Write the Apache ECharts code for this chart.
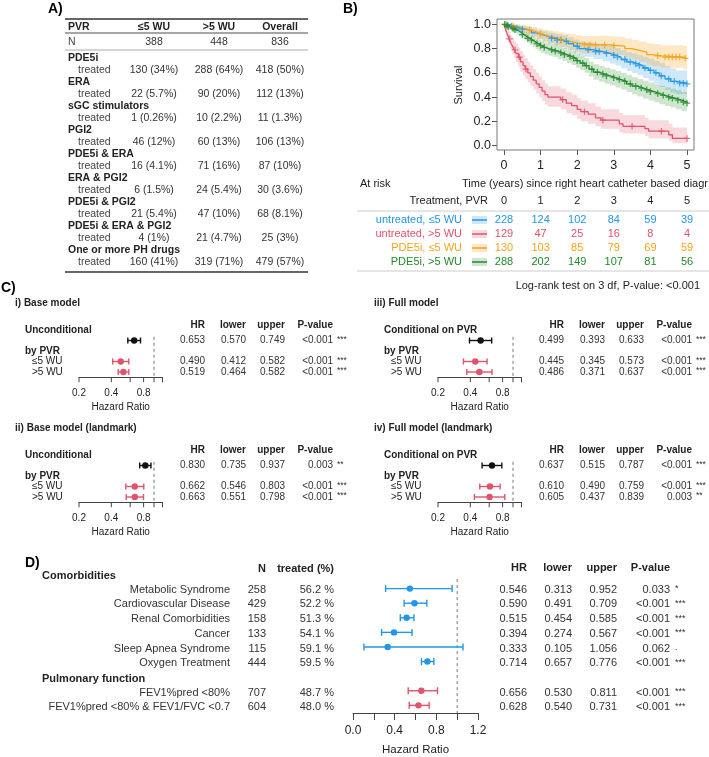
<!DOCTYPE html>
<html><head><meta charset="utf-8">
<script src="https://cdn.jsdelivr.net/npm/echarts@6.0.0/dist/echarts.min.js"></script>
<style>html,body{margin:0;padding:0;background:#fff;}#c{width:709px;height:757px;}</style>
</head><body><div id="c"></div>
<script>
// ================= DATA =================
// ---- Panel A: treatment table ----
const tableHeader = ['PVR', '≤5 WU', '>5 WU', 'Overall'];
const tableNLabel = 'N';
const tableN = ['388', '448', '836'];
const drugGroups = ['PDE5i', 'ERA', 'sGC stimulators', 'PGI2', 'PDE5i & ERA', 'ERA & PGI2', 'PDE5i & PGI2', 'PDE5i & ERA & PGI2', 'One or more PH drugs'];
const treatedLabel = 'treated';
const treatedLow = ['130 (34%)', '22 (5.7%)', '1 (0.26%)', '46 (12%)', '16 (4.1%)', '6 (1.5%)', '21 (5.4%)', '4 (1%)', '160 (41%)'];
const treatedHigh = ['288 (64%)', '90 (20%)', '10 (2.2%)', '60 (13%)', '71 (16%)', '24 (5.4%)', '47 (10%)', '21 (4.7%)', '319 (71%)'];
const treatedAll = ['418 (50%)', '112 (13%)', '11 (1.3%)', '106 (13%)', '87 (10%)', '30 (3.6%)', '68 (8.1%)', '25 (3%)', '479 (57%)'];

// ---- Panel B: Kaplan-Meier ----
const kmGroups = ['untreated, ≤5 WU', 'untreated, >5 WU', 'PDE5i, ≤5 WU', 'PDE5i, >5 WU'];
const blueT  = [0, 0.05, 0.15, 0.3, 0.45, 0.6, 0.75, 0.9, 1.05, 1.2, 1.4, 1.6, 1.75, 1.9, 2.05, 2.2, 2.45, 2.7, 2.9, 3.05, 3.2, 3.35, 3.5, 3.65, 3.8, 3.95, 4.1, 4.25, 4.4, 4.55, 4.7, 5];
const blueS  = [1, .995, .985, .97, .96, .95, .93, .915, .90, .885, .87, .86, .84, .82, .80, .79, .775, .76, .745, .73, .71, .69, .675, .66, .64, .62, .60, .575, .55, .53, .515, .51];
const blueLo = [1, .986, .970, .948, .934, .921, .897, .878, .860, .842, .824, .812, .789, .766, .744, .732, .714, .696, .678, .661, .638, .615, .598, .580, .557, .534, .511, .483, .460, .440, .425, .420];
const blueHi = [1, 1, 1, .992, .987, .980, .965, .954, .942, .930, .918, .910, .893, .876, .860, .852, .840, .828, .817, .805, .789, .772, .760, .748, .732, .716, .700, .680, .655, .635, .620, .610];
const blueCens = [0.1, 0.2, 0.35, 0.5, 1.3, 1.45, 1.55, 1.7, 2.0, 2.3, 2.5, 2.6, 2.8, 3.0, 3.1, 3.3, 3.45, 3.6, 3.7, 3.85, 4.0, 4.15, 4.3, 4.5, 4.65, 4.8, 4.9, 5.0];

const redT  = [0, .03, .06, .1, .14, .18, .23, .28, .33, .39, .45, .52, .58, .65, .72, .8, .88, .96, 1.04, 1.12, 1.2, 1.55, 1.7, 1.85, 2.0, 2.1, 2.3, 2.5, 2.65, 3.15, 3.25, 3.85, 3.95, 4.5, 4.6, 5];
const redS  = [1, .97, .94, .91, .88, .85, .82, .79, .76, .73, .69, .66, .63, .60, .57, .54, .51, .48, .45, .42, .40, .38, .35, .33, .30, .28, .26, .23, .21, .18, .16, .14, .12, .09, .06, .06];
const redLo = [1, .94, .90, .86, .83, .79, .75, .72, .69, .65, .61, .58, .55, .52, .49, .46, .43, .40, .37, .34, .32, .30, .27, .25, .22, .20, .18, .16, .14, .11, .10, .08, .06, .04, .02, .02];
const redHi = [1, 1, .98, .96, .94, .91, .89, .86, .84, .81, .78, .75, .72, .69, .66, .63, .60, .57, .54, .51, .49, .47, .44, .42, .39, .37, .35, .32, .30, .27, .25, .23, .21, .18, .15, .15];
const redCens = [0.15, 0.3, 0.42, 0.6, 1.6, 2.2, 2.7, 3.5, 4.3, 5.0];

const orangeT  = [0, .1, .2, .3, .45, .6, .75, .9, 1.05, 1.2, 1.35, 1.5, 1.65, 1.8, 1.95, 2.1, 2.6, 2.9, 3.1, 3.3, 3.5, 3.7, 3.9, 4.05, 4.3, 4.9, 5];
const orangeS  = [1, .99, .985, .975, .96, .95, .935, .92, .905, .895, .885, .87, .86, .85, .84, .83, .83, .825, .82, .80, .785, .77, .75, .74, .73, .72, .715];
const orangeLo = [1, .973, .964, .948, .928, .913, .894, .875, .856, .843, .830, .812, .799, .787, .774, .761, .760, .754, .748, .725, .708, .690, .667, .655, .643, .630, .622];
const orangeHi = [1, 1, 1, 1, .994, .988, .978, .968, .957, .950, .943, .933, .925, .918, .911, .904, .906, .902, .898, .883, .871, .859, .843, .835, .828, .822, .820];
const orangeCens = [0.05, 0.25, 0.7, 1.0, 1.55, 2.2, 2.35, 2.5, 2.75, 3.0, 4.2, 4.4, 4.5, 4.6, 4.7, 4.8, 4.95];

const greenT  = [0, .05, .1, .15, .2, .27, .34, .41, .48, .55, .62, .7, .78, .86, .94, 1.02, 1.12, 1.22, 1.35, 1.48, 1.6, 1.72, 1.85, 1.97, 2.08, 2.2, 2.32, 2.45, 2.6, 2.75, 2.9, 3.05, 3.2, 3.35, 3.5, 3.65, 3.8, 3.95, 4.1, 4.25, 4.4, 4.55, 4.7, 4.85, 5];
const greenS  = [1, .99, .98, .975, .965, .955, .945, .93, .915, .90, .885, .87, .855, .84, .825, .81, .80, .79, .78, .765, .75, .735, .72, .70, .68, .66, .63, .605, .59, .575, .56, .545, .53, .51, .49, .475, .46, .445, .43, .415, .40, .39, .375, .36, .35];
const greenLo = [1, .979, .964, .957, .944, .931, .919, .901, .883, .866, .848, .831, .814, .797, .780, .763, .752, .741, .730, .713, .697, .680, .664, .642, .621, .600, .569, .543, .527, .511, .495, .479, .463, .442, .421, .405, .389, .373, .357, .341, .326, .315, .300, .285, .274];
const greenHi = [1, 1, .996, .993, .986, .979, .972, .960, .948, .936, .924, .911, .898, .885, .872, .859, .851, .842, .833, .820, .806, .792, .779, .760, .741, .722, .694, .671, .657, .643, .629, .615, .601, .582, .563, .549, .535, .521, .507, .493, .479, .470, .456, .442, .434];
const greenCens = [0.02, 0.08, 0.12, 0.25, 0.3, 0.5, 0.65, 0.75, 0.9, 1.0, 1.1, 1.3, 1.4, 1.55, 1.65, 1.8, 1.9, 2.0, 2.15, 2.25, 2.4, 2.55, 2.7, 2.8, 3.0, 3.15, 3.3, 3.45, 3.6, 3.75, 3.9, 4.0, 4.2, 4.35, 4.5, 4.6, 4.75, 4.9, 5.0];

const riskTimes = [0, 1, 2, 3, 4, 5];
const riskBlue = [228, 124, 102, 84, 59, 39];
const riskRed = [129, 47, 25, 16, 8, 4];
const riskOrange = [130, 103, 85, 79, 69, 59];
const riskGreen = [288, 202, 149, 107, 81, 56];
const kmYLabel = 'Survival';
const atRiskText = 'At risk';
const timeAxisTitle = 'Time (years) since right heart catheter based diagr';
const riskHeader = 'Treatment, PVR';
const logRankText = 'Log-rank test on 3 df, P-value: <0.001';

// ---- Panel C: forest plots ----
const cTitles = ['i) Base model', 'ii) Base model (landmark)', 'iii) Full model', 'iv) Full model (landmark)'];
const cGroupLabels = ['Unconditional', 'Unconditional', 'Conditional on PVR', 'Conditional on PVR'];
const byPvrLabel = 'by PVR';
const subgroupLabels = ['≤5 WU', '>5 WU'];
const tableHead = ['HR', 'lower', 'upper', 'P-value'];
const baseHR = [0.653, 0.490, 0.519], baseLo = [0.570, 0.412, 0.464], baseHi = [0.749, 0.582, 0.582];
const baseP = ['<0.001', '<0.001', '<0.001'], baseStars = ['***', '***', '***'];
const baseLmHR = [0.830, 0.662, 0.663], baseLmLo = [0.735, 0.546, 0.551], baseLmHi = [0.937, 0.803, 0.798];
const baseLmP = ['0.003', '<0.001', '<0.001'], baseLmStars = ['**', '***', '***'];
const fullHR = [0.499, 0.445, 0.486], fullLo = [0.393, 0.345, 0.371], fullHi = [0.633, 0.573, 0.637];
const fullP = ['<0.001', '<0.001', '<0.001'], fullStars = ['***', '***', '***'];
const fullLmHR = [0.637, 0.610, 0.605], fullLmLo = [0.515, 0.490, 0.437], fullLmHi = [0.787, 0.759, 0.839];
const fullLmP = ['<0.001', '<0.001', '0.003'], fullLmStars = ['***', '***', '**'];
const cTicks = [0.2, 0.4, 0.6, 0.8, 1.0, 1.2];
const cTickLabels = [0.2, 0.4, 0.8];
const refHR = 1;
const hrAxisName = 'Hazard Ratio';

// ---- Panel D: comorbidities ----
const dGroupTitles = ['Comorbidities', 'Pulmonary function'];
const dHead = ['N', 'treated (%)'];
const comorbLabels = ['Metabolic Syndrome', 'Cardiovascular Disease', 'Renal Comorbidities', 'Cancer', 'Sleep Apnea Syndrome', 'Oxygen Treatment'];
const comorbN = [258, 429, 158, 133, 115, 444];
const comorbTreated = ['56.2 %', '52.2 %', '51.3 %', '54.1 %', '59.1 %', '59.5 %'];
const comorbHR = [0.546, 0.590, 0.515, 0.394, 0.333, 0.714];
const comorbLo = [0.313, 0.491, 0.454, 0.274, 0.105, 0.657];
const comorbHi = [0.952, 0.709, 0.585, 0.567, 1.056, 0.776];
const comorbP = ['0.033', '<0.001', '<0.001', '<0.001', '0.062', '<0.001'];
const comorbStars = ['*', '***', '***', '***', '.', '***'];
const pulmLabels = ['FEV1%pred <80%', 'FEV1%pred <80% & FEV1/FVC <0.7'];
const pulmN = [707, 604];
const pulmTreated = ['48.7 %', '48.0 %'];
const pulmHR = [0.656, 0.628], pulmLo = [0.530, 0.540], pulmHi = [0.811, 0.731];
const pulmP = ['<0.001', '<0.001'], pulmStars = ['***', '***'];
const dTickLabels = [0, 0.4, 0.8, 1.2];

// ================= STYLE / LAYOUT =================
const FONT = '"Liberation Sans", Arial, Helvetica, sans-serif';
const COL = {blue: '#2297E6', red: '#DF536B', orange: '#F7A21B', green: '#23892A', black: '#111'};
const BAND = {blue: 'rgba(34,151,230,0.22)', red: 'rgba(223,83,107,0.22)', orange: 'rgba(247,162,27,0.26)', green: 'rgba(35,137,42,0.22)'};
const PLUS = 'path://M3.6,0H5.4V3.6H9V5.4H5.4V9H3.6V5.4H0V3.6H3.6Z';

const g = [];
function T(x, y, text, size, o) {
  o = o || {};
  const al = o.align || 'left';
  g.push({type: 'text', x: x, y: y, z: 50, silent: true,
    style: {text: String(text), font: (o.bold ? 'bold ' : '') + size + 'px ' + FONT, fill: o.color || '#222',
      align: al, verticalAlign: 'middle', textAlign: al, textVerticalAlign: 'middle'}});
}
function Ln(x1, y1, x2, y2, c, w) {
  g.push({type: 'line', z: 50, silent: true, shape: {x1: x1, y1: y1, x2: x2, y2: y2}, style: {stroke: c, lineWidth: w}});
}

// ---- Panel A ----
const A = {x0: 65, x1: 308, labelX: 68, treatedX: 78, cols: [154, 219, 280], rTop: 19, hdrY: 27, rHdr: 33, nY: 42, rN: 50, grp0: 58, step: 12, rBot: 272, fs: 10.5};
T(48, 9, 'A)', 14, {bold: true, color: '#000'});
Ln(A.x0, A.rTop, A.x1, A.rTop, '#666', 2);
T(A.labelX, A.hdrY, tableHeader[0], A.fs, {bold: true});
tableHeader.slice(1).forEach((h, i) => T(A.cols[i], A.hdrY, h, A.fs, {bold: true, align: 'center'}));
Ln(A.x0, A.rHdr, A.x1, A.rHdr, '#888', 1.5);
T(A.labelX, A.nY, tableNLabel, A.fs, {color: '#444'});
tableN.forEach((v, i) => T(A.cols[i], A.nY, v, A.fs, {align: 'center', color: '#333'}));
Ln(A.x0, A.rN, A.x1, A.rN, '#aaa', 1);
drugGroups.forEach((name, k) => {
  const y = A.grp0 + 2 * A.step * k;
  T(A.labelX, y, name, A.fs, {bold: true});
  T(A.treatedX, y + A.step, treatedLabel, A.fs, {color: '#444'});
  [treatedLow[k], treatedHigh[k], treatedAll[k]].forEach((v, i) => T(A.cols[i], y + A.step, v, A.fs, {align: 'center', color: '#333'}));
});
Ln(A.x0, A.rBot, A.x1, A.rBot, '#666', 2);

// ---- Panel B layout ----
const KM = {boxL: 497, boxT: 19, boxW: 197, boxH: 131, gL: 504, gT: 24.3, gW: 183, gH: 121.4};
const R = {atRiskX: 360, y0: 184, timeX: 462, hdrY: 201, labelR: 462, hdrR: 488, gl: 472, gr: 487, rows: [220, 234, 248, 262], ruleL: 357, ruleR: 709, rule1: 211, rule2: 271, lrR: 700, lrY: 286, fs: 11};
T(343, 9, 'B)', 14, {bold: true, color: '#000'});
g.push({type: 'rect', z: 40, silent: true, shape: {x: KM.boxL, y: KM.boxT, width: KM.boxW, height: KM.boxH}, style: {fill: 'none', stroke: '#777', lineWidth: 1}});

// ---- Panel C layout ----
const C = {colOff: [0, 359], rowOff: [0, 125], titleX: 15, titleY: 303, hdrY: 325, row0: 330, step: 10.5, labelX: 25, subX: 32,
  rights: [205, 246, 285, 333], starX: 337, axL: 79, axW: 83.5, yMax: 4.5, fs: 10, estRows: [1, 3, 4]};
// ---- Panel D layout ----
const D = {labelR: 230, nR: 266, trR: 334, groupX: 42, hdrY: 569, row0: 574, step: 14.7, axL: 353, axW: 125, axH: 140,
  rights: [527, 572, 617, 670], starX: 675, fs: 11, comorbRows: [1, 2, 3, 4, 5, 6], pulmRows: [8, 9], groupRows: [0, 7]};

function survAt(t, s, x) { let v = s[0]; for (let i = 0; i < t.length; i++) { if (t[i] <= x) v = s[i]; } return v; }

const grids = [], xAxes = [], yAxes = [], series = [];
// grid 0: KM
grids.push({left: KM.gL, top: KM.gT, width: KM.gW, height: KM.gH});
xAxes.push({type: 'value', gridIndex: 0, min: 0, max: 5, interval: 1, offset: (KM.boxT + KM.boxH) - (KM.gT + KM.gH),
  axisLine: {show: false, onZero: false}, axisTick: {show: true, length: 5, lineStyle: {color: '#555'}},
  axisLabel: {fontSize: 12.5, color: '#222', margin: 9, fontFamily: FONT}, splitLine: {show: false}});
yAxes.push({type: 'value', gridIndex: 0, min: 0, max: 1, interval: 0.2, offset: KM.gL - KM.boxL,
  axisLine: {show: false, onZero: false}, axisTick: {show: true, length: 5, lineStyle: {color: '#555'}},
  axisLabel: {fontSize: 12.5, color: '#222', margin: 6, fontFamily: FONT, formatter: v => v.toFixed(1)}, splitLine: {show: false},
  name: kmYLabel, nameLocation: 'middle', nameGap: 33, nameTextStyle: {fontSize: 11, color: '#222', fontFamily: FONT}});

const kmSets = [
  {t: blueT, s: blueS, lo: blueLo, hi: blueHi, cens: blueCens, c: COL.blue, b: BAND.blue, risk: riskBlue},
  {t: redT, s: redS, lo: redLo, hi: redHi, cens: redCens, c: COL.red, b: BAND.red, risk: riskRed},
  {t: orangeT, s: orangeS, lo: orangeLo, hi: orangeHi, cens: orangeCens, c: COL.orange, b: BAND.orange, risk: riskOrange},
  {t: greenT, s: greenS, lo: greenLo, hi: greenHi, cens: greenCens, c: COL.green, b: BAND.green, risk: riskGreen}
];
// confidence bands: one stepped polygon per group, built through the axis scales
kmSets.forEach((k) => {
  series.push({type: 'custom', xAxisIndex: 0, yAxisIndex: 0, z: 1, silent: true, clip: true,
    data: k.t.map((x, j) => [x, k.lo[j], k.hi[j]]), encode: {x: 0, y: [1, 2]},
    renderItem: (params, api) => {
      if (params.dataIndex !== 0) return null;
      const n = k.t.length, up = [], dn = [];
      for (let j = 0; j < n; j++) {
        const xNext = j < n - 1 ? k.t[j + 1] : k.t[j];
        up.push(api.coord([k.t[j], k.hi[j]]), api.coord([xNext, k.hi[j]]));
        dn.push(api.coord([k.t[j], k.lo[j]]), api.coord([xNext, k.lo[j]]));
      }
      return {type: 'polygon', shape: {points: up.concat(dn.reverse())}, style: {fill: k.b}};
    }});
});
kmSets.forEach((k) => {
  series.push({type: 'line', xAxisIndex: 0, yAxisIndex: 0, step: 'end', symbol: 'none', silent: true, z: 3,
    lineStyle: {color: k.c, width: 1.3}, data: k.t.map((x, j) => [x, k.s[j]])});
  series.push({type: 'scatter', xAxisIndex: 0, yAxisIndex: 0, symbol: PLUS, symbolSize: 6.5, silent: true, z: 4,
    itemStyle: {color: k.c}, data: k.cens.map(x => [x, survAt(k.t, k.s, x)])});
});

// Forest helpers
function forestSeries(gi, hr, lo, hi, rows, colors, capH) {
  return {type: 'custom', xAxisIndex: gi, yAxisIndex: gi, z: 5, clip: false, silent: true,
    data: hr.map((h, i) => [h, rows[i], lo[i], hi[i]]),
    encode: {x: [0, 2, 3], y: 1},
    renderItem: (params, api) => {
      const y = api.value(1);
      const p = api.coord([api.value(0), y]), a = api.coord([api.value(2), y]), b = api.coord([api.value(3), y]);
      const c = colors[params.dataIndex];
      const st = {stroke: c, lineWidth: 1.4};
      return {type: 'group', children: [
        {type: 'line', shape: {x1: a[0], y1: p[1], x2: b[0], y2: p[1]}, style: st},
        {type: 'line', shape: {x1: a[0], y1: p[1] - capH, x2: a[0], y2: p[1] + capH}, style: st},
        {type: 'line', shape: {x1: b[0], y1: p[1] - capH, x2: b[0], y2: p[1] + capH}, style: st},
        {type: 'circle', shape: {cx: p[0], cy: p[1], r: 3.2}, style: {fill: c}}
      ]};
    }};
}
function tickSeries(gi, ticks, labels, yBottom, len, gap, fs) {
  return {type: 'custom', xAxisIndex: gi, yAxisIndex: gi, z: 5, clip: false, silent: true,
    data: ticks.map(v => [v, yBottom]), encode: {x: 0, y: 1},
    renderItem: (params, api) => {
      const v = api.value(0); const p = api.coord([v, api.value(1)]);
      const ch = [{type: 'line', shape: {x1: p[0], y1: p[1], x2: p[0], y2: p[1] + len}, style: {stroke: '#444', lineWidth: 1}}];
      if (labels.indexOf(v) >= 0) ch.push({type: 'text', x: p[0], y: p[1] + gap,
        style: {text: v.toFixed(1), font: fs + 'px ' + FONT, fill: '#222', align: 'center', verticalAlign: 'middle', textAlign: 'center', textVerticalAlign: 'middle'}});
      return {type: 'group', children: ch};
    }};
}
function refLine(gi, y0, y1) {
  return {type: 'line', xAxisIndex: gi, yAxisIndex: gi, symbol: 'none', silent: true, z: 2,
    lineStyle: {color: '#777', width: 1, type: [3, 3]}, data: [[refHR, y0], [refHR, y1]]};
}

// ---- Panel C grids ----
T(1, 288, 'C)', 14, {bold: true, color: '#000'});
const cSets = [
  {hr: baseHR, lo: baseLo, hi: baseHi, p: baseP, s: baseStars, col: 0, row: 0},
  {hr: baseLmHR, lo: baseLmLo, hi: baseLmHi, p: baseLmP, s: baseLmStars, col: 0, row: 1},
  {hr: fullHR, lo: fullLo, hi: fullHi, p: fullP, s: fullStars, col: 1, row: 0},
  {hr: fullLmHR, lo: fullLmLo, hi: fullLmHi, p: fullLmP, s: fullLmStars, col: 1, row: 1}
];
cSets.forEach((cs, k) => {
  const gi = k + 1, dx = C.colOff[cs.col], dy = C.rowOff[cs.row];
  grids.push({left: C.axL + dx, top: C.row0 + dy, width: C.axW, height: C.step * C.yMax});
  xAxes.push({type: 'log', logBase: 10, gridIndex: gi, min: 0.2, max: 1.2, position: 'bottom',
    axisLine: {show: true, onZero: false, lineStyle: {color: '#444', width: 1}}, axisTick: {show: false}, axisLabel: {show: false}, splitLine: {show: false},
    name: hrAxisName, nameLocation: 'middle', nameGap: 25, nameTextStyle: {fontSize: 10, color: '#222', fontFamily: FONT}});
  yAxes.push({type: 'value', gridIndex: gi, min: 0, max: C.yMax, inverse: true, show: false});
  series.push(refLine(gi, 0.65, C.yMax));
  series.push(forestSeries(gi, cs.hr, cs.lo, cs.hi, C.estRows, [COL.black, COL.red, COL.red], 3));
  series.push(tickSeries(gi, cTicks, cTickLabels, C.yMax, 5, 16, 10));
  // texts
  T(C.titleX + dx, C.titleY + dy, cTitles[k], C.fs, {bold: true});
  tableHead.forEach((h, j) => T(C.rights[j] + dx, C.hdrY + dy, h, C.fs, {bold: true, align: 'right'}));
  T(C.labelX + dx, C.row0 + dy, cGroupLabels[k], C.fs, {bold: true});
  T(C.labelX + dx, C.row0 + dy + 2 * C.step, byPvrLabel, C.fs, {bold: true});
  subgroupLabels.forEach((s, j) => T(C.subX + dx, C.row0 + dy + C.estRows[j + 1] * C.step, s, C.fs));
  cs.hr.forEach((h, j) => {
    const y = C.row0 + dy + C.estRows[j] * C.step;
    T(C.rights[0] + dx, y, h.toFixed(3), C.fs, {align: 'right', color: '#333'});
    T(C.rights[1] + dx, y, cs.lo[j].toFixed(3), C.fs, {align: 'right', color: '#333'});
    T(C.rights[2] + dx, y, cs.hi[j].toFixed(3), C.fs, {align: 'right', color: '#333'});
    T(C.rights[3] + dx, y, cs.p[j], C.fs, {align: 'right', color: '#333'});
    T(C.starX + dx, y - 1, cs.s[j], 8.5, {color: '#333'});
  });
});

// ---- Panel D ----
const dgi = 5;
grids.push({left: D.axL, top: D.row0, width: D.axW, height: D.axH});
xAxes.push({type: 'value', gridIndex: dgi, min: 0, max: 1.2, interval: 0.2, position: 'bottom',
  axisLine: {show: true, onZero: false, lineStyle: {color: '#444', width: 1}}, axisTick: {show: true, length: 7, lineStyle: {color: '#444'}},
  axisLabel: {fontSize: 12, color: '#222', margin: 12, fontFamily: FONT,
    formatter: v => dTickLabels.some(t => Math.abs(t - v) < 1e-9) ? v.toFixed(1) : ''},
  splitLine: {show: false},
  name: hrAxisName, nameLocation: 'middle', nameGap: 31, nameTextStyle: {fontSize: 11.5, color: '#222', fontFamily: FONT}});
const dYMax = D.axH / D.step;
yAxes.push({type: 'value', gridIndex: dgi, min: 0, max: dYMax, inverse: true, show: false});
series.push(refLine(dgi, 0.35, dYMax));
series.push(forestSeries(dgi, comorbHR.concat(pulmHR), comorbLo.concat(pulmLo), comorbHi.concat(pulmHi),
  D.comorbRows.concat(D.pulmRows), comorbHR.map(() => COL.blue).concat(pulmHR.map(() => COL.red)), 3.5));

T(25, 563, 'D)', 14, {bold: true, color: '#000'});
T(D.nR, D.hdrY, dHead[0], D.fs, {bold: true, align: 'right'});
T(D.trR, D.hdrY, dHead[1], D.fs, {bold: true, align: 'right'});
tableHead.forEach((h, j) => T(D.rights[j], D.hdrY - 1, h, D.fs, {bold: true, align: 'right'}));
dGroupTitles.forEach((s, j) => T(D.groupX, D.row0 + D.groupRows[j] * D.step + 2, s, D.fs, {bold: true}));
function dRow(r, label, n, tr, hr, lo, hi, p, s) {
  const y = D.row0 + r * D.step + 1;
  T(D.labelR, y, label, D.fs, {align: 'right', color: '#333'});
  T(D.nR, y, n, D.fs, {align: 'right', color: '#333'});
  T(D.trR, y, tr, D.fs, {align: 'right', color: '#333'});
  T(D.rights[0], y, hr.toFixed(3), D.fs, {align: 'right', color: '#333'});
  T(D.rights[1], y, lo.toFixed(3), D.fs, {align: 'right', color: '#333'});
  T(D.rights[2], y, hi.toFixed(3), D.fs, {align: 'right', color: '#333'});
  T(D.rights[3], y, p, D.fs, {align: 'right', color: '#333'});
  T(D.starX, y - 1, s, 9, {color: '#333'});
}
comorbLabels.forEach((l, i) => dRow(D.comorbRows[i], l, comorbN[i], comorbTreated[i], comorbHR[i], comorbLo[i], comorbHi[i], comorbP[i], comorbStars[i]));
pulmLabels.forEach((l, i) => dRow(D.pulmRows[i], l, pulmN[i], pulmTreated[i], pulmHR[i], pulmLo[i], pulmHi[i], pulmP[i], pulmStars[i]));

// ================= RENDER =================
const chart = echarts.init(document.getElementById('c'), null, {renderer: 'canvas', width: 709, height: 757});
chart.setOption({animation: false, backgroundColor: '#fff', textStyle: {fontFamily: FONT},
  grid: grids, xAxis: xAxes, yAxis: yAxes, series: series});

// ---- Risk table (x from KM axis scale) ----
const riskX = riskTimes.map(t => chart.convertToPixel({xAxisIndex: 0}, t));
T(R.atRiskX, R.y0, atRiskText, R.fs, {color: '#222'});
T(R.timeX, R.y0, timeAxisTitle, R.fs, {color: '#222'});
T(R.hdrR, R.hdrY, riskHeader, R.fs, {align: 'right', color: '#222'});
riskTimes.forEach((t, j) => T(riskX[j], R.hdrY, t, R.fs, {align: 'center', color: '#222'}));
Ln(R.ruleL, R.rule1, R.ruleR, R.rule1, '#ccc', 1);
kmSets.forEach((k, i) => {
  const y = R.rows[i];
  T(R.labelR, y, kmGroups[i], R.fs, {align: 'right', color: k.c});
  g.push({type: 'rect', z: 45, silent: true, shape: {x: R.gl, y: y - 4, width: R.gr - R.gl, height: 8}, style: {fill: k.b}});
  Ln(R.gl, y, R.gr, y, k.c, 1.5);
  k.risk.forEach((v, j) => T(riskX[j], y, v, R.fs, {align: 'center', color: k.c}));
});
Ln(R.ruleL, R.rule2, R.ruleR, R.rule2, '#ccc', 1);
T(R.lrR, R.lrY, logRankText, R.fs, {align: 'right', color: '#222'});

chart.setOption({graphic: {elements: g}});
</script>
</body></html>
